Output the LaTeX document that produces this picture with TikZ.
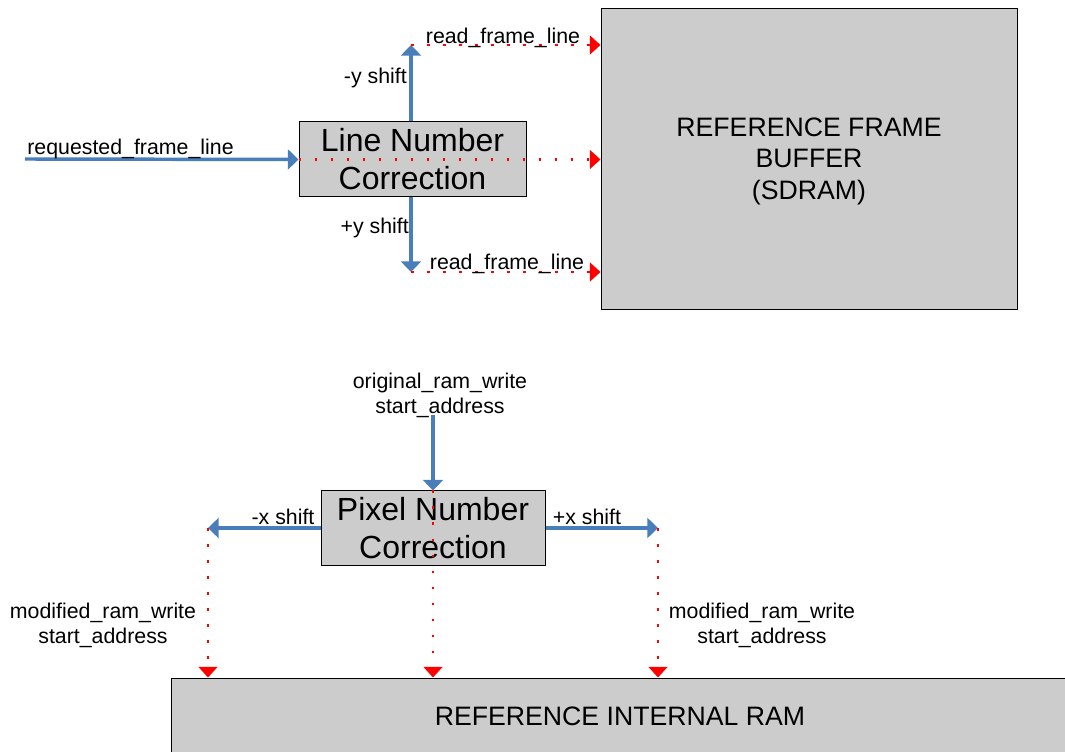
\documentclass[tikz,border=0pt]{standalone}
\usepackage{fontspec}
\setmainfont{Liberation Sans}
\usetikzlibrary{arrows.meta}
\definecolor{flowblue}{RGB}{74,126,187}
\definecolor{boxgray}{RGB}{204,204,204}
\tikzset{
  blk/.style={draw=black, line width=0.75pt, fill=boxgray, inner sep=0pt},
  bluearrow/.style={draw=flowblue, line width=2.6pt, -{Triangle[length=8pt,width=15pt]}},
  reddots/.style={draw=red, line width=1.9pt, dash pattern=on 1.9pt off 10.1pt, -{Triangle[length=8pt,width=14pt]}},
  lbl/.style={inner sep=0pt, font=\fontsize{16}{18.8}\selectfont, align=center},
  big/.style={font=\fontsize{20}{23.6}\selectfont, align=center},
  huge/.style={font=\fontsize{24}{28.5}\selectfont, align=center}
}
\begin{document}
\begin{tikzpicture}[x=0.75pt,y=-0.75pt]
\useasboundingbox (0,0) rectangle (1065,752);
\begin{scope}
\clip (0,0) rectangle (1065,752);
% top part
\node[blk, minimum width=227*0.75pt, minimum height=75*0.75pt, huge] (lnc) at (412.5,159.5) {Line Number\\Correction};
\node[blk, minimum width=416*0.75pt, minimum height=301*0.75pt] (rfb) at (809,159.5) {};
\node[big, inner sep=0pt] (rfbtxt) at (809,161) {REFERENCE FRAME\\BUFFER\\(SDRAM)};
\coordinate (reqstart) at (25,159);
\coordinate (ytop) at (411,45);
\coordinate (ybot) at (411,272);
\draw[bluearrow] (reqstart) -- (lnc.west);
\node[lbl] (reqlbl) at (130.5,149) {requested\_frame\_line};
\draw[bluearrow] (ytop |- lnc.north) -- (ytop);
\draw[bluearrow] (ybot |- lnc.south) -- (ybot);
\node[lbl, anchor=east] (ymin) at (407,78) {-y shift};
\node[lbl, anchor=east] (yplus) at (409,228) {+y shift};
\draw[reddots] (ytop) -- (ytop -| rfb.west);
\draw[reddots] (lnc.west) -- (rfb.west |- lnc.west);
\draw[reddots] (ybot) -- (ybot -| rfb.west);
\node[lbl] (rfl1) at (503,38) {read\_frame\_line};
\node[lbl] (rfl2) at (507,264) {read\_frame\_line};
% bottom part
\node[blk, minimum width=224*0.75pt, minimum height=74*0.75pt, huge] (pnc) at (433,528) {Pixel Number\\Correction};
\node[blk, minimum width=900*0.75pt, minimum height=90*0.75pt] (ram) at (621,723) {};
\node[big, inner sep=0pt] (ramtxt) at (620,716) {REFERENCE INTERNAL RAM};
\node[lbl] (orig) at (440,395) {original\_ram\_write\\start\_address};
\coordinate (origend) at (433,415);
\coordinate (xl) at (208,528);
\coordinate (xr) at (658,528);
\draw[bluearrow] (origend) -- (origend |- pnc.north);
\draw[bluearrow] (pnc.west) -- (xl);
\draw[bluearrow] (pnc.east) -- (xr);
\node[lbl] (xminus) at (283,517) {-x shift};
\node[lbl] (xplus) at (587,517) {+x shift};
\draw[reddots] (xl) -- (xl |- ram.north);
\draw[reddots] (origend |- pnc.north) -- (origend |- ram.north);
\draw[reddots] (xr) -- (xr |- ram.north);
\node[lbl] (modl) at (103,625) {modified\_ram\_write\\start\_address};
\node[lbl] (modr) at (762,625) {modified\_ram\_write\\start\_address};
\end{scope}
\end{tikzpicture}
\end{document}
